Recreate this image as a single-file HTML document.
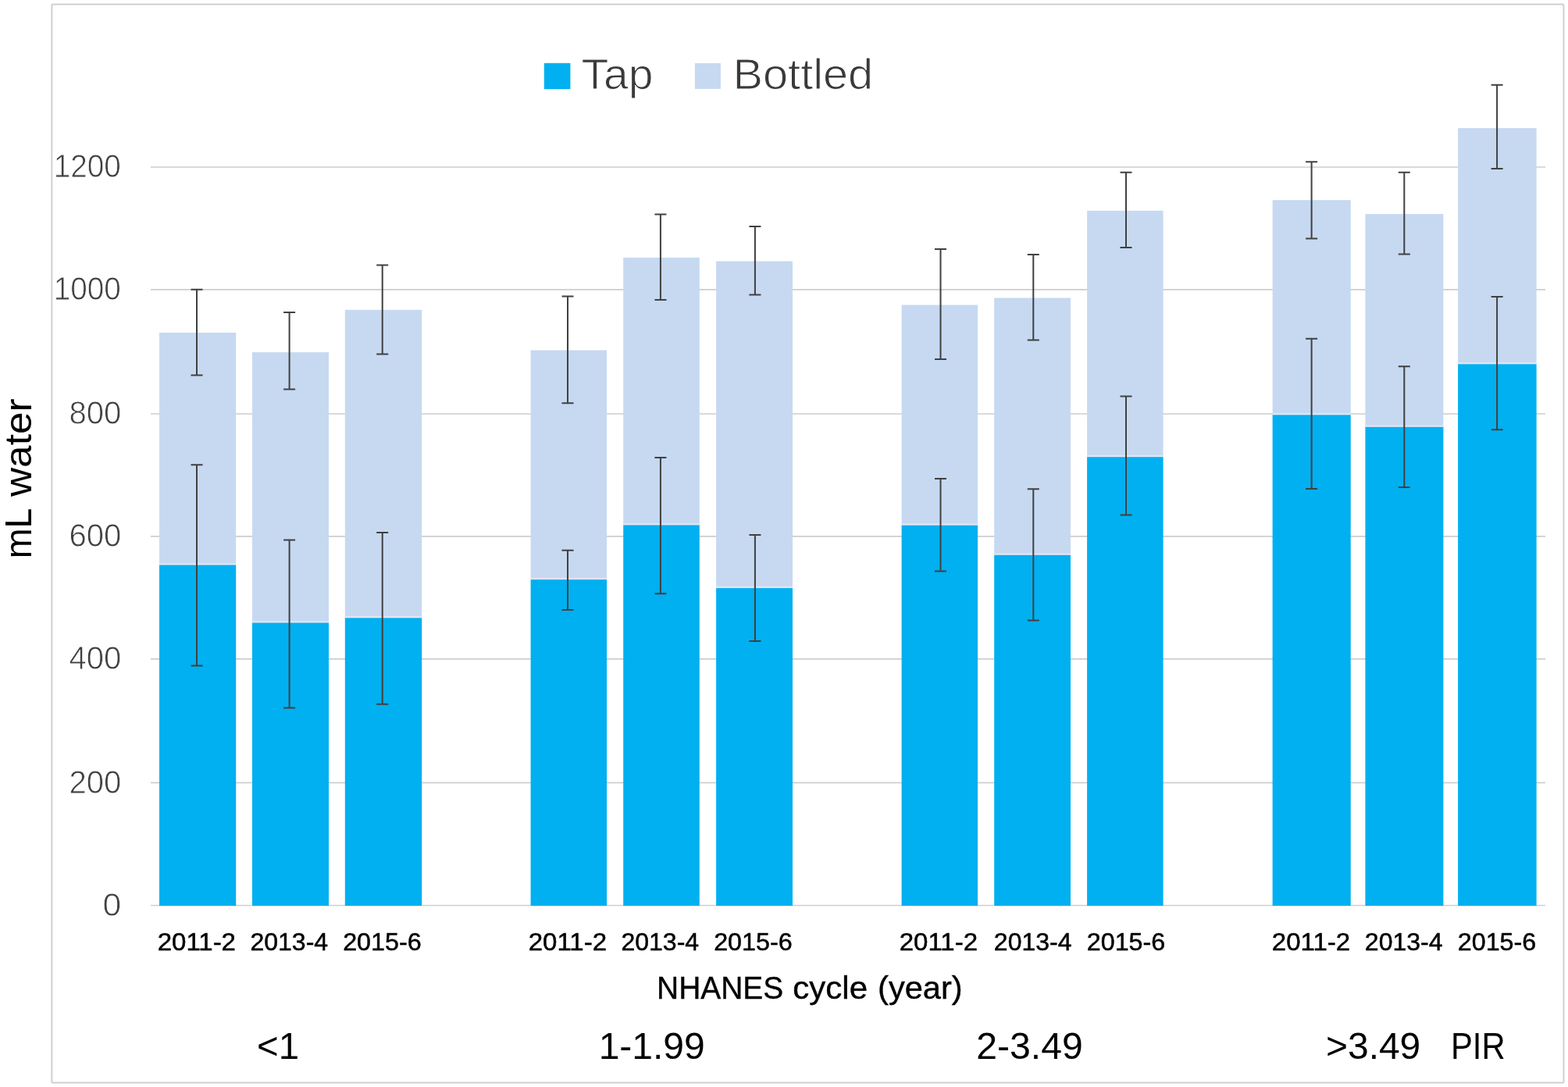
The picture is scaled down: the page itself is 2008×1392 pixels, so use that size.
<!DOCTYPE html>
<html lang="en">
<head>
<meta charset="utf-8">
<title>Tap and bottled water intake by NHANES cycle and PIR</title>
<style>
html,body{margin:0;padding:0;background:#fff;}
body{width:2008px;height:1392px;overflow:hidden;}
svg{display:block;}
text{font-family:"Liberation Sans",sans-serif;}
.tick{fill:#404040;stroke:#fff;stroke-width:0.8;}
.leg{fill:#3a3a3a;stroke:#fff;stroke-width:1;}
.yr{fill:#000;stroke:#000;stroke-width:0.5;}
.xt{fill:#000;stroke:#000;stroke-width:0.4;}
.grp{fill:#000;}
.yt{fill:#000;}
</style>
</head>
<body>
<svg width="2008" height="1392" viewBox="0 0 2008 1392">
<rect x="0" y="0" width="2008" height="1392" fill="#ffffff"/>
<rect x="66.3" y="5.5" width="1936.2" height="1381" rx="1.5" ry="1.5" fill="#ffffff" stroke="#d0d0d0" stroke-width="2"/>
<g stroke="#cecece" stroke-width="1.7" fill="none">
<line x1="193" y1="214.0" x2="1979" y2="214.0"/>
<line x1="193" y1="370.8" x2="1979" y2="370.8"/>
<line x1="193" y1="530.0" x2="1979" y2="530.0"/>
<line x1="193" y1="686.8" x2="1979" y2="686.8"/>
<line x1="193" y1="843.8" x2="1979" y2="843.8"/>
<line x1="193" y1="1002.4" x2="1979" y2="1002.4"/>
<line x1="193" y1="1159.5" x2="1979" y2="1159.5"/>
</g>
<g>
<rect x="204.0" y="426.0" width="98.2" height="296.9" fill="#c6d9f1"/>
<rect x="204.0" y="721.2" width="98.2" height="2.4" fill="#e4e3f3"/>
<rect x="204.0" y="723.5" width="98.2" height="436.4" fill="#00b0f0"/>
<rect x="323.0" y="451.1" width="98.0" height="345.8" fill="#c6d9f1"/>
<rect x="323.0" y="795.2" width="98.0" height="2.4" fill="#e4e3f3"/>
<rect x="323.0" y="797.5" width="98.0" height="362.4" fill="#00b0f0"/>
<rect x="441.8" y="396.8" width="98.4" height="393.9" fill="#c6d9f1"/>
<rect x="441.8" y="789.0" width="98.4" height="2.4" fill="#e4e3f3"/>
<rect x="441.8" y="791.3" width="98.4" height="368.6" fill="#00b0f0"/>
<rect x="679.6" y="448.5" width="97.5" height="293.1" fill="#c6d9f1"/>
<rect x="679.6" y="739.9" width="97.5" height="2.4" fill="#e4e3f3"/>
<rect x="679.6" y="742.2" width="97.5" height="417.7" fill="#00b0f0"/>
<rect x="798.2" y="329.9" width="97.6" height="341.9" fill="#c6d9f1"/>
<rect x="798.2" y="670.1" width="97.6" height="2.4" fill="#e4e3f3"/>
<rect x="798.2" y="672.4" width="97.6" height="487.5" fill="#00b0f0"/>
<rect x="917.1" y="334.5" width="97.9" height="418.0" fill="#c6d9f1"/>
<rect x="917.1" y="750.8" width="97.9" height="2.4" fill="#e4e3f3"/>
<rect x="917.1" y="753.1" width="97.9" height="406.8" fill="#00b0f0"/>
<rect x="1154.6" y="390.5" width="97.5" height="281.6" fill="#c6d9f1"/>
<rect x="1154.6" y="670.4" width="97.5" height="2.4" fill="#e4e3f3"/>
<rect x="1154.6" y="672.7" width="97.5" height="487.2" fill="#00b0f0"/>
<rect x="1273.2" y="381.5" width="97.8" height="328.7" fill="#c6d9f1"/>
<rect x="1273.2" y="708.5" width="97.8" height="2.4" fill="#e4e3f3"/>
<rect x="1273.2" y="710.8" width="97.8" height="449.1" fill="#00b0f0"/>
<rect x="1392.1" y="269.8" width="97.5" height="314.8" fill="#c6d9f1"/>
<rect x="1392.1" y="582.9" width="97.5" height="2.4" fill="#e4e3f3"/>
<rect x="1392.1" y="585.2" width="97.5" height="574.7" fill="#00b0f0"/>
<rect x="1629.6" y="256.2" width="100.1" height="274.5" fill="#c6d9f1"/>
<rect x="1629.6" y="529.0" width="100.1" height="2.4" fill="#e4e3f3"/>
<rect x="1629.6" y="531.3" width="100.1" height="628.6" fill="#00b0f0"/>
<rect x="1748.4" y="274.1" width="100.0" height="272.1" fill="#c6d9f1"/>
<rect x="1748.4" y="544.5" width="100.0" height="2.4" fill="#e4e3f3"/>
<rect x="1748.4" y="546.8" width="100.0" height="613.1" fill="#00b0f0"/>
<rect x="1867.1" y="164.1" width="100.5" height="301.6" fill="#c6d9f1"/>
<rect x="1867.1" y="464.0" width="100.5" height="2.4" fill="#e4e3f3"/>
<rect x="1867.1" y="466.3" width="100.5" height="693.6" fill="#00b0f0"/>
</g>
<g stroke="#404040" stroke-width="2" fill="none">
<path d="M244.5 370.7H259.5M252.0 370.7V480.5M244.5 480.5H259.5"/>
<path d="M244.5 595.2H259.5M252.0 595.2V852.5M244.5 852.5H259.5"/>
<path d="M363.1 400.0H378.1M370.6 400.0V498.4M363.1 498.4H378.1"/>
<path d="M363.1 691.5H378.1M370.6 691.5V906.4M363.1 906.4H378.1"/>
<path d="M482.2 339.5H497.2M489.7 339.5V453.5M482.2 453.5H497.2"/>
<path d="M482.2 682.1H497.2M489.7 682.1V901.8M482.2 901.8H497.2"/>
<path d="M719.5 379.6H734.5M727.0 379.6V516.3M719.5 516.3H734.5"/>
<path d="M719.5 704.8H734.5M727.0 704.8V781.0M719.5 781.0H734.5"/>
<path d="M838.4 274.6H853.4M845.9 274.6V384.0M838.4 384.0H853.4"/>
<path d="M838.4 585.9H853.4M845.9 585.9V760.3M838.4 760.3H853.4"/>
<path d="M959.4 289.9H974.4M966.9 289.9V377.6M959.4 377.6H974.4"/>
<path d="M959.4 684.9H974.4M966.9 684.9V821.0M959.4 821.0H974.4"/>
<path d="M1197.0 319.1H1212.0M1204.5 319.1V460.1M1197.0 460.1H1212.0"/>
<path d="M1197.0 612.9H1212.0M1204.5 612.9V731.6M1197.0 731.6H1212.0"/>
<path d="M1315.8 326.1H1330.8M1323.3 326.1V435.6M1315.8 435.6H1330.8"/>
<path d="M1315.8 626.2H1330.8M1323.3 626.2V794.5M1315.8 794.5H1330.8"/>
<path d="M1434.5 220.8H1449.5M1442.0 220.8V316.9M1434.5 316.9H1449.5"/>
<path d="M1434.5 507.6H1449.5M1442.0 507.6V659.6M1434.5 659.6H1449.5"/>
<path d="M1672.1 207.3H1687.1M1679.6 207.3V305.6M1672.1 305.6H1687.1"/>
<path d="M1672.1 433.7H1687.1M1679.6 433.7V626.0M1672.1 626.0H1687.1"/>
<path d="M1790.8 220.8H1805.8M1798.3 220.8V325.6M1790.8 325.6H1805.8"/>
<path d="M1790.8 469.3H1805.8M1798.3 469.3V624.0M1790.8 624.0H1805.8"/>
<path d="M1909.6 108.8H1924.6M1917.1 108.8V216.1M1909.6 216.1H1924.6"/>
<path d="M1909.6 380.0H1924.6M1917.1 380.0V550.2M1909.6 550.2H1924.6"/>
</g>
<rect x="696.8" y="80.8" width="33.6" height="33.3" fill="#00b0f0"/>
<rect x="889.9" y="80.9" width="33" height="33" fill="#c6d9f1"/>
<text class="tick" font-size="41.90" x="68.72" y="227.20" textLength="86.17" lengthAdjust="spacingAndGlyphs">1200</text>
<text class="tick" font-size="41.90" x="68.72" y="384.10" textLength="86.17" lengthAdjust="spacingAndGlyphs">1000</text>
<text class="tick" font-size="42.35" x="88.51" y="543.20" textLength="66.89" lengthAdjust="spacingAndGlyphs">800</text>
<text class="tick" font-size="42.35" x="88.51" y="700.10" textLength="66.89" lengthAdjust="spacingAndGlyphs">600</text>
<text class="tick" font-size="42.35" x="88.51" y="857.10" textLength="66.89" lengthAdjust="spacingAndGlyphs">400</text>
<text class="tick" font-size="42.35" x="88.51" y="1015.90" textLength="66.89" lengthAdjust="spacingAndGlyphs">200</text>
<text class="tick" font-size="42.31" x="131.40" y="1172.80" textLength="23.73" lengthAdjust="spacingAndGlyphs">0</text>
<text class="yr" font-size="31.53" x="201.71" y="1217.00" textLength="100.27" lengthAdjust="spacingAndGlyphs">2011-2</text>
<text class="yr" font-size="31.53" x="320.48" y="1217.00" textLength="99.65" lengthAdjust="spacingAndGlyphs">2013-4</text>
<text class="yr" font-size="31.53" x="439.20" y="1217.00" textLength="100.40" lengthAdjust="spacingAndGlyphs">2015-6</text>
<text class="yr" font-size="31.53" x="676.76" y="1217.00" textLength="100.27" lengthAdjust="spacingAndGlyphs">2011-2</text>
<text class="yr" font-size="31.53" x="795.48" y="1217.00" textLength="99.65" lengthAdjust="spacingAndGlyphs">2013-4</text>
<text class="yr" font-size="31.53" x="914.20" y="1217.00" textLength="100.40" lengthAdjust="spacingAndGlyphs">2015-6</text>
<text class="yr" font-size="31.53" x="1151.76" y="1217.00" textLength="100.27" lengthAdjust="spacingAndGlyphs">2011-2</text>
<text class="yr" font-size="31.53" x="1272.88" y="1217.00" textLength="99.65" lengthAdjust="spacingAndGlyphs">2013-4</text>
<text class="yr" font-size="31.53" x="1391.80" y="1217.00" textLength="100.40" lengthAdjust="spacingAndGlyphs">2015-6</text>
<text class="yr" font-size="31.53" x="1628.86" y="1217.00" textLength="100.27" lengthAdjust="spacingAndGlyphs">2011-2</text>
<text class="yr" font-size="31.53" x="1747.88" y="1217.00" textLength="99.65" lengthAdjust="spacingAndGlyphs">2013-4</text>
<text class="yr" font-size="31.53" x="1866.80" y="1217.00" textLength="100.40" lengthAdjust="spacingAndGlyphs">2015-6</text>
<text class="xt" font-size="40.90" y="1279.26"><tspan x="841.11" textLength="162.16" lengthAdjust="spacingAndGlyphs">NHANES</tspan> <tspan x="1015.33" textLength="95.67" lengthAdjust="spacingAndGlyphs">cycle</tspan> <tspan x="1124.06" textLength="108.60" lengthAdjust="spacingAndGlyphs">(year)</tspan></text>
<text class="grp" font-size="48.00" x="329.03" y="1355.70" textLength="54.00" lengthAdjust="spacingAndGlyphs">&lt;1</text>
<text class="grp" font-size="48.00" x="766.67" y="1355.70" textLength="136.10" lengthAdjust="spacingAndGlyphs">1-1.99</text>
<text class="grp" font-size="48.00" x="1250.26" y="1355.70" textLength="136.48" lengthAdjust="spacingAndGlyphs">2-3.49</text>
<text class="grp" font-size="48.00" x="1698.06" y="1355.70" textLength="121.17" lengthAdjust="spacingAndGlyphs">&gt;3.49</text>
<text class="grp" font-size="48.00" x="1857.97" y="1355.70" textLength="69.62" lengthAdjust="spacingAndGlyphs">PIR</text>
<text class="leg" font-size="56.00" x="744.40" y="114.30" textLength="92.00" lengthAdjust="spacingAndGlyphs">Tap</text>
<text class="leg" font-size="56.00" x="938.49" y="114.30" textLength="179.73" lengthAdjust="spacingAndGlyphs">Bottled</text>
<text class="yt" font-size="48.30" transform="translate(39.78 715.23) rotate(-90)"><tspan x="0.00" textLength="62.99" lengthAdjust="spacingAndGlyphs">mL</tspan> <tspan x="79.24" textLength="125.65" lengthAdjust="spacingAndGlyphs">water</tspan></text>
</svg>
</body>
</html>
